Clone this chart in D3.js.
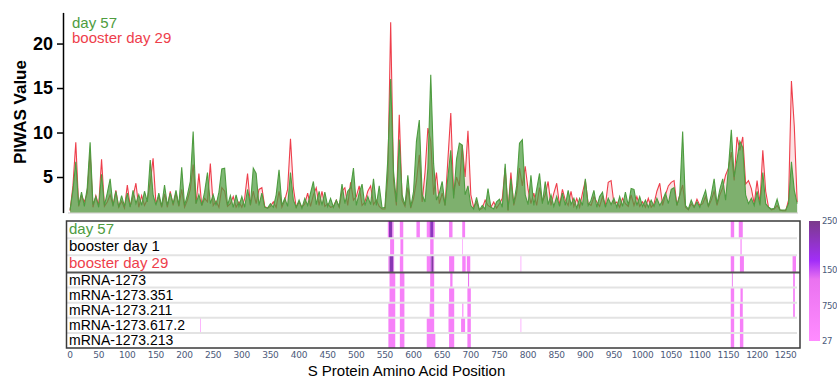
<!DOCTYPE html>
<html>
<head>
<meta charset="utf-8">
<script src="https://cdn.jsdelivr.net/npm/d3@7"></script>
<style>
  body { margin: 0; background: #fff; }
  svg { display: block; font-family: "Liberation Sans", Arial, sans-serif; }
</style>
</head>
<body>
<svg id="chart" width="837" height="379"></svg>
<script>
// amino acid positions sampled along the spike protein (every 5th residue)
const positions = d3.range(1, 1272, 5);

// PIWAS values, day 57 (green)
const day57 = [
  1.3, 3.5, 6.7, 1.8, 3.3, 1.7, 3.8, 8.9, 1.9, 2.8,
  1.6, 5.3, 1.8, 3.2, 4.8, 1.7, 3.4, 1.6, 2.9, 1.7,
  3.2, 1.6, 3.5, 2.0, 3.0, 1.8, 3.4, 2.2, 6.9, 3.0,
  1.8, 3.2, 1.7, 4.1, 1.8, 3.2, 2.0, 3.5, 1.8, 6.1,
  1.8, 3.0, 4.5, 10.1, 2.0, 3.0, 1.8, 3.3, 5.5, 2.0,
  3.0, 1.8, 3.3, 5.9, 6.0, 1.8, 2.9, 1.6, 3.0, 1.7,
  2.8, 1.6, 3.6, 1.9, 6.0, 5.4, 1.8, 3.2, 1.6, 1.5,
  2.0, 1.6, 3.0, 5.8, 1.8, 2.6, 1.7, 5.5, 2.4, 1.6,
  2.4, 1.5, 2.6, 1.8, 3.2, 4.5, 1.9, 3.4, 1.8, 3.3,
  1.7, 2.6, 1.6, 2.4, 1.7, 4.2, 2.0, 3.4, 3.8, 6.0,
  1.8, 3.2, 4.2, 1.8, 2.8, 1.9, 4.8, 1.8, 4.0, 1.5,
  1.6, 7.0, 16.0, 5.6, 2.2, 9.2, 3.0, 1.8, 5.2, 1.6,
  3.4, 9.0, 11.4, 3.0, 2.2, 6.0, 16.5, 6.5, 2.4, 3.2,
  4.5, 1.8, 5.0, 8.0, 2.6, 7.0, 8.8, 8.6, 3.0, 4.0,
  1.8, 1.4, 2.7, 1.3, 1.8, 1.4, 3.7, 1.6, 1.4, 2.2,
  2.5, 1.6, 6.5, 1.3, 4.8, 2.0, 4.0, 8.8, 9.2, 3.0,
  1.9, 5.2, 1.8, 3.6, 5.4, 2.0, 4.5, 1.9, 3.0, 1.7,
  2.8, 1.7, 3.2, 1.8, 3.5, 1.9, 2.6, 1.5, 2.6, 1.8,
  4.8, 1.8, 2.4, 3.5, 1.6, 2.8, 3.3, 1.6, 2.6, 1.9,
  2.6, 1.6, 2.8, 1.7, 3.3, 1.8, 3.7, 3.6, 1.8, 2.8,
  1.7, 2.4, 1.6, 2.4, 1.7, 2.6, 1.8, 2.4, 3.2, 2.0,
  3.6, 3.8, 1.8, 3.0, 10.1, 1.8, 1.4, 2.4, 1.6, 2.2,
  1.6, 2.6, 3.5, 1.7, 3.0, 4.8, 2.0, 3.6, 4.8, 2.4,
  6.0, 10.3, 5.0, 7.0, 9.0, 8.3, 3.0, 2.0, 2.6, 1.8,
  3.4, 1.8, 5.5, 2.0, 1.6, 1.4, 1.5, 2.5, 1.3, 1.3,
  1.3, 2.0, 6.7, 3.5, 2.0
];

// PIWAS values, booster day 29 (red)
const boosterDay29 = [
  1.2, 4.0, 8.9, 1.7, 2.9, 2.2, 3.2, 7.8, 1.6, 2.9,
  1.8, 7.0, 1.7, 2.2, 3.0, 1.8, 3.5, 1.6, 2.3, 1.5,
  4.1, 1.7, 2.8, 4.3, 1.6, 2.9, 1.8, 2.5, 4.4, 7.1,
  2.0, 2.8, 1.6, 3.1, 1.6, 3.4, 1.8, 3.2, 1.7, 3.6,
  1.6, 2.4, 3.6, 6.4, 2.0, 5.4, 1.8, 2.6, 2.2, 6.5,
  1.8, 2.3, 1.6, 3.8, 3.4, 1.7, 2.0, 2.8, 1.6, 2.2,
  1.6, 2.6, 5.4, 1.8, 3.4, 2.0, 3.6, 3.8, 1.7, 1.5,
  1.7, 2.2, 1.6, 3.4, 1.6, 2.4, 3.6, 9.3, 3.8, 1.6,
  2.2, 1.6, 2.0, 3.2, 1.7, 3.0, 3.8, 1.8, 3.4, 1.7,
  2.0, 1.6, 1.7, 2.4, 1.6, 3.4, 3.8, 1.8, 4.4, 2.4,
  2.8, 4.0, 1.8, 2.2, 3.4, 4.0, 1.9, 2.4, 1.7, 1.4,
  1.4, 5.0, 22.4, 4.6, 1.8, 12.0, 2.4, 1.7, 3.8, 1.5,
  2.6, 4.5, 7.5, 2.2, 5.5, 10.5, 9.0, 3.0, 5.5, 2.0,
  3.2, 1.8, 7.0, 12.2, 3.0, 5.0, 4.0, 8.6, 5.0, 10.2,
  3.0, 1.6, 2.2, 1.3, 1.5, 2.4, 1.8, 1.6, 2.2, 1.5,
  2.0, 2.6, 6.0, 1.2, 5.5, 1.8, 3.2, 6.0, 4.0, 6.2,
  3.6, 2.0, 3.2, 1.8, 3.8, 2.2, 3.0, 4.5, 1.8, 3.2,
  4.3, 1.8, 3.6, 2.4, 1.8, 3.4, 1.7, 2.6, 1.6, 3.2,
  4.6, 2.0, 1.8, 2.8, 2.2, 1.7, 2.8, 1.8, 4.4, 4.6,
  2.0, 2.2, 1.6, 2.6, 2.0, 1.7, 3.0, 1.8, 2.8, 1.7,
  2.2, 1.6, 2.6, 1.6, 2.0, 3.4, 4.3, 1.8, 3.0, 4.0,
  4.4, 4.6, 1.8, 3.0, 4.1, 1.6, 1.3, 2.0, 1.6, 2.5,
  1.8, 2.0, 2.8, 1.7, 2.4, 3.4, 1.8, 3.0, 3.8, 5.2,
  6.0, 7.8, 4.6, 9.5, 8.0, 9.5, 4.2, 4.6, 3.7, 2.0,
  4.6, 2.0, 8.0, 3.4, 1.6, 1.3, 1.4, 1.8, 1.3, 1.2,
  1.2, 2.4, 15.8, 10.7, 2.2
];

const yTicks = [5, 10, 15, 20];
const xTicks = d3.range(0, 1251, 50);

// heatmap rows
const sampleRows = ["day 57", "booster day 1", "booster day 29"];
const vaccineRows = ["mRNA-1273", "mRNA-1273.351", "mRNA-1273.211", "mRNA-1273.617.2", "mRNA-1273.213"];
// [row, start position, end position, value]
const heatCells = [
  ["day 57", 556, 558, 500], ["day 57", 558, 564, 2200], ["day 57", 564, 566, 700],
  ["day 57", 577, 583, 600], ["day 57", 606, 612, 550], ["day 57", 624, 628, 400],
  ["day 57", 628, 630, 1200], ["day 57", 630, 636, 2100], ["day 57", 636, 638, 800],
  ["day 57", 663, 669, 600], ["day 57", 686, 691, 600], ["day 57", 1155, 1161, 650],
  ["day 57", 1169, 1176, 650],
  ["booster day 1", 560, 567, 600], ["booster day 1", 578, 583, 600], ["booster day 1", 630, 636, 650],
  ["booster day 1", 686, 687, 200], ["booster day 1", 1172, 1174, 500],
  ["booster day 29", 557, 559, 700], ["booster day 29", 559, 566, 2200], ["booster day 29", 566, 567, 700],
  ["booster day 29", 577, 583, 600], ["booster day 29", 624, 630, 500], ["booster day 29", 630, 632, 1400],
  ["booster day 29", 632, 636, 2300], ["booster day 29", 636, 637, 900], ["booster day 29", 663, 672, 600],
  ["booster day 29", 686, 692, 550], ["booster day 29", 694, 700, 600], ["booster day 29", 788, 789, 300],
  ["booster day 29", 1155, 1161, 650], ["booster day 29", 1171, 1178, 650], ["booster day 29", 1263, 1269, 600],
  ["mRNA-1273", 559, 569, 600], ["mRNA-1273", 577, 585, 600], ["mRNA-1273", 630, 637, 600],
  ["mRNA-1273", 665, 669, 600], ["mRNA-1273", 696, 698, 1300], ["mRNA-1273", 1157, 1158.5, 1300],
  ["mRNA-1273", 1264, 1267, 650],
  ["mRNA-1273.351", 559, 569, 600], ["mRNA-1273.351", 577, 585, 600], ["mRNA-1273.351", 630, 637, 600],
  ["mRNA-1273.351", 663, 672, 600], ["mRNA-1273.351", 695, 701, 600], ["mRNA-1273.351", 1155, 1161, 600],
  ["mRNA-1273.351", 1172, 1176, 600], ["mRNA-1273.351", 1264, 1267, 600],
  ["mRNA-1273.211", 557, 569, 600], ["mRNA-1273.211", 577, 585, 600], ["mRNA-1273.211", 629, 637, 600],
  ["mRNA-1273.211", 662, 672, 600], ["mRNA-1273.211", 686, 688, 250], ["mRNA-1273.211", 695, 701, 600],
  ["mRNA-1273.211", 1155, 1161, 600], ["mRNA-1273.211", 1171, 1176, 600], ["mRNA-1273.211", 1264, 1267, 600],
  ["mRNA-1273.617.2", 228, 229, 300], ["mRNA-1273.617.2", 557, 569, 600], ["mRNA-1273.617.2", 577, 585, 600],
  ["mRNA-1273.617.2", 624, 637, 550], ["mRNA-1273.617.2", 662, 672, 600], ["mRNA-1273.617.2", 684, 691, 600],
  ["mRNA-1273.617.2", 695, 701, 600], ["mRNA-1273.617.2", 788, 789, 300], ["mRNA-1273.617.2", 1155, 1161, 600],
  ["mRNA-1273.617.2", 1171, 1177, 600],
  ["mRNA-1273.213", 557, 569, 600], ["mRNA-1273.213", 577, 585, 600], ["mRNA-1273.213", 624, 639, 550],
  ["mRNA-1273.213", 663, 672, 600], ["mRNA-1273.213", 695, 701, 600], ["mRNA-1273.213", 1155, 1161, 600],
  ["mRNA-1273.213", 1171, 1177, 600]
];
const legendTicks = [27, 750, 1500, 2500];

const GREEN = "#4e9c40", RED = "#ee3e4b", SLATE = "#4c5a7a";

const svg = d3.select("#chart");
const x = d3.scaleLinear().domain([0, 1273]).range([69.5, 798.3]);
const y = d3.scaleLinear().domain([1, 23.5]).range([212.6, 12.4]);

// ---- top: PIWAS traces ----
svg.append("line")
  .attr("x1", 68).attr("x2", 798).attr("y1", y(1) + 0.5).attr("y2", y(1) + 0.5)
  .attr("stroke", "#dcdcdc").attr("stroke-width", 1.5);

const area = d3.area().x((d, i) => x(positions[i])).y0(y(1)).y1(d => y(d));
const line = d3.line().x((d, i) => x(positions[i])).y(d => y(d));

[[boosterDay29, RED, 0.15], [day57, GREEN, 0.72]].forEach(([vals, col, op]) => {
  svg.append("path").datum(vals).attr("d", area)
    .attr("fill", col).attr("fill-opacity", op);
  svg.append("path").datum(vals).attr("d", line)
    .attr("fill", "none").attr("stroke", col).attr("stroke-width", 1.1);
});

const yAxis = svg.append("g").attr("transform", "translate(63,0)")
  .call(d3.axisLeft(y).tickValues(yTicks).tickSize(6).tickSizeOuter(0).tickPadding(4));
yAxis.select(".domain").attr("stroke", "#000").attr("stroke-width", 1.5);
yAxis.selectAll(".tick line").attr("stroke", "#000").attr("stroke-width", 1.5);
yAxis.selectAll("text").attr("font-size", 18).attr("font-weight", "bold")
  .attr("font-family", "Liberation Sans, Arial, sans-serif").attr("fill", "#000");

svg.append("text").attr("transform", "translate(26,112) rotate(-90)")
  .attr("text-anchor", "middle").attr("font-size", 17).attr("font-weight", "bold")
  .text("PIWAS Value");

svg.append("text").attr("x", 72).attr("y", 27.5).attr("font-size", 15).attr("fill", GREEN).text("day 57");
svg.append("text").attr("x", 72).attr("y", 42.7).attr("font-size", 15).attr("fill", RED).text("booster day 29");

// ---- bottom: epitope heatmap ----
const bandA = d3.scaleBand().domain(sampleRows).range([221, 272.5]);
const bandB = d3.scaleBand().domain(vaccineRows).range([272.5, 348]);
const rowY = r => sampleRows.includes(r) ? bandA(r) : bandB(r);
const rowH = r => sampleRows.includes(r) ? bandA.bandwidth() : bandB.bandwidth();

const heatColor = d3.scaleLinear()
  .domain([27, 1300, 1680, 2500])
  .range(["#ff8cff", "#ea72f0", "#a22ef8", "#7b3b8b"]);

svg.append("g").selectAll("rect").data(heatCells).join("rect")
  .attr("x", d => x(d[1]))
  .attr("width", d => Math.max(x(d[2]) - x(d[1]), 0.6))
  .attr("y", d => rowY(d[0]))
  .attr("height", d => rowH(d[0]))
  .attr("fill", d => heatColor(d[3]));

// light row separators
const seps = sampleRows.slice(0, 2).map(r => bandA(r) + bandA.bandwidth())
  .concat(vaccineRows.slice(0, 4).map(r => bandB(r) + bandB.bandwidth()));
svg.append("g").selectAll("line").data(seps).join("line")
  .attr("x1", 67).attr("x2", 797).attr("y1", d => d).attr("y2", d => d)
  .attr("stroke", "#e3e3e3").attr("stroke-width", 2);

svg.append("line").attr("x1", 66).attr("x2", 800).attr("y1", 272.5).attr("y2", 272.5)
  .attr("stroke", "#555").attr("stroke-width", 2);
svg.append("rect").attr("x", 66.5).attr("y", 221).attr("width", 733.5).attr("height", 127)
  .attr("fill", "none").attr("stroke", "#3a3a3a").attr("stroke-width", 1.5);

const labelColor = { "day 57": GREEN, "booster day 29": RED };
svg.append("g").selectAll("text").data(sampleRows).join("text")
  .attr("x", 69).attr("y", r => bandA(r) + bandA.bandwidth() - 4.5)
  .attr("font-size", 15).attr("fill", r => labelColor[r] || "#000").text(r => r);
svg.append("g").selectAll("text").data(vaccineRows).join("text")
  .attr("x", 69).attr("y", r => bandB(r) + bandB.bandwidth() - 3)
  .attr("font-size", 14).attr("fill", "#000").text(r => r);

// x axis
const xAxis = svg.append("g").attr("transform", "translate(0,347)")
  .call(d3.axisBottom(x).tickValues(xTicks).tickSize(0).tickPadding(5).tickFormat(d3.format("d")));
xAxis.select(".domain").remove();
xAxis.selectAll("text").attr("font-size", 9).attr("fill", SLATE)
  .attr("font-family", "DejaVu Sans, sans-serif").attr("letter-spacing", -0.3);

svg.append("text").attr("x", 406.5).attr("y", 376).attr("text-anchor", "middle")
  .attr("font-size", 15).text("S Protein Amino Acid Position");

// color legend
const grad = svg.append("defs").append("linearGradient").attr("id", "heatGrad")
  .attr("x1", 0).attr("y1", 1).attr("x2", 0).attr("y2", 0);
grad.selectAll("stop").data(heatColor.domain()).join("stop")
  .attr("offset", d => (d - 27) / (2500 - 27))
  .attr("stop-color", d => heatColor(d));
const yL = d3.scaleLinear().domain([27, 2500]).range([341, 221]);
svg.append("rect").attr("x", 809).attr("y", 221).attr("width", 11).attr("height", 120)
  .attr("fill", "url(#heatGrad)");
const lAxis = svg.append("g").attr("transform", "translate(820,0)")
  .call(d3.axisRight(yL).tickValues(legendTicks).tickSize(0).tickPadding(2).tickFormat(d3.format("d")));
lAxis.select(".domain").remove();
lAxis.selectAll("text").attr("font-size", 8.5).attr("fill", SLATE)
  .attr("font-family", "DejaVu Sans, sans-serif").attr("letter-spacing", -0.4);
</script>
</body>
</html>
